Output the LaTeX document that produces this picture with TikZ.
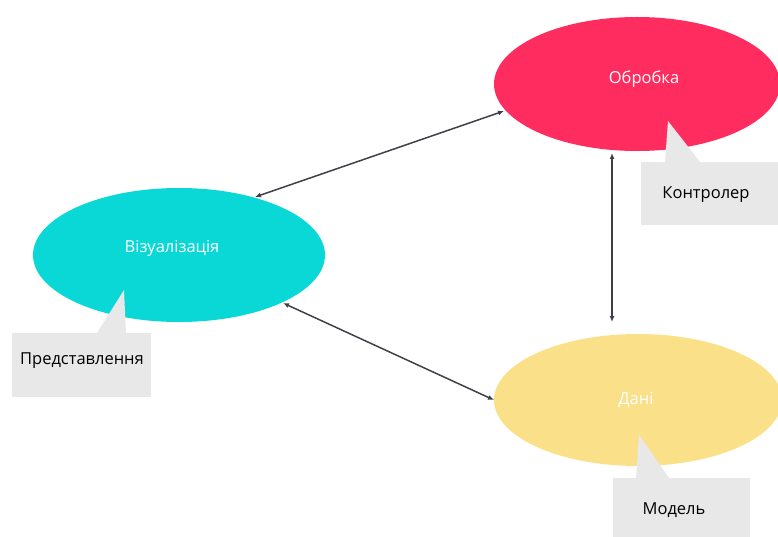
\documentclass[tikz,border=0pt]{standalone}
\usepackage{fontspec}
\setmainfont{Open Sans}
\usetikzlibrary{shapes.geometric,arrows.meta}
\definecolor{procred}{HTML}{FF2D5F}
\definecolor{viscyan}{HTML}{0AD8D6}
\definecolor{datayellow}{HTML}{FBE08A}
\definecolor{notegray}{HTML}{E8E8E8}
\definecolor{linkgray}{HTML}{404048}
\tikzset{
  blob/.style={ellipse, draw=none, inner sep=0pt},
  blobtext/.style={text=white, font=\fontsize{16.5}{19}\selectfont},
  note/.style={fill=notegray, draw=none},
  notetext/.style={text=black, font=\fontsize{16.5}{19}\selectfont},
  link/.style={draw=linkgray, line width=1.5pt, {Latex[length=6pt,width=5pt]}-{Latex[length=6pt,width=5pt]}}
}
\begin{document}
\begin{tikzpicture}[x=1pt,y=-1pt]
\useasboundingbox (0,0) rectangle (778,537);

% three roles as coloured ellipses
\node[blob, fill=procred, minimum width=286pt, minimum height=134pt] (proc) at (637,84) {};
\node[blob, fill=viscyan, minimum width=292pt, minimum height=134pt] (vis) at (179,255) {};
\node[blob, fill=datayellow, minimum width=288pt, minimum height=132pt] (data) at (638,400) {};

\node[blobtext] (proclabel) at (644,79) {Обробка};
\node[blobtext] (vislabel) at (172,248) {Візуалізація};
\node[blobtext] (datalabel) at (636,400) {Дані};

% callout notes with their pointers
\fill[note] (668,121) -- (665,162) -- (700,162) -- cycle;
\node[note, minimum width=140pt, minimum height=63pt, inner sep=0pt] (ctrl) at (711,193.5) {};
\node[notetext] (ctrllabel) at (706,194.5) {Контролер};

\fill[note] (124,290) -- (97,333) -- (126,333) -- cycle;
\node[note, minimum width=139pt, minimum height=64pt, inner sep=0pt] (view) at (81.5,364.5) {};
\node[notetext] (viewlabel) at (82,360.5) {Представлення};

\fill[note] (639,435) -- (636,478) -- (669,478) -- cycle;
\node[note, minimum width=137pt, minimum height=62pt, inner sep=0pt] (model) at (681.5,509) {};
\node[notetext] (modellabel) at (674,510.5) {Модель};

% connector end points on the ellipse rims
\coordinate (pv) at (504,111);
\coordinate (vp) at (255,197);
\coordinate (vd) at (283,303);
\coordinate (dv) at (494,400);
\coordinate (pd) at (612,153);
\coordinate (dp) at (612,322);

\draw[link] (vp) -- (pv);
\draw[link] (vd) -- (dv);
\draw[link] (pd) -- (dp);
\end{tikzpicture}
\end{document}
